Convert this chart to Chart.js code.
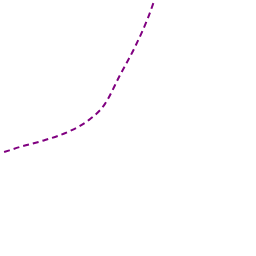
<!DOCTYPE html>
<html>
<head>
<meta charset="utf-8">
<script src="https://cdn.jsdelivr.net/npm/chart.js@4"></script>
<style>
    html, body { margin: 0; padding: 0; background: #ffffff; }
    canvas { display: block; }
</style>
</head>
<body>
<canvas id="curveChart" width="256" height="256"></canvas>
<script>
// Curve data (axis units, 0-100 on both axes)
const xValues = [1.6, 7.8, 17.6, 27.3, 35.2, 41.0, 46.9, 52.7, 57.8, 60.9];
const yValues = [40.6, 42.6, 45.3, 48.8, 53.5, 59.4, 70.7, 81.6, 93.0, 101.6];

const lineColor = '#800080';

const points = xValues.map((x, i) => ({ x: x, y: yValues[i] }));

const ctx = document.getElementById('curveChart');
new Chart(ctx, {
    type: 'line',
    data: {
        datasets: [{
            data: points,
            borderColor: lineColor,
            borderWidth: 2,
            borderDash: [6, 4],
            pointRadius: 0,
            fill: false,
            cubicInterpolationMode: 'monotone'
        }]
    },
    options: {
        responsive: false,
        animation: false,
        layout: { padding: 0 },
        plugins: {
            legend: { display: false },
            tooltip: { enabled: false }
        },
        scales: {
            x: { type: 'linear', min: 0, max: 100, display: false },
            y: { type: 'linear', min: 0, max: 100, display: false }
        }
    }
});
</script>
</body>
</html>
